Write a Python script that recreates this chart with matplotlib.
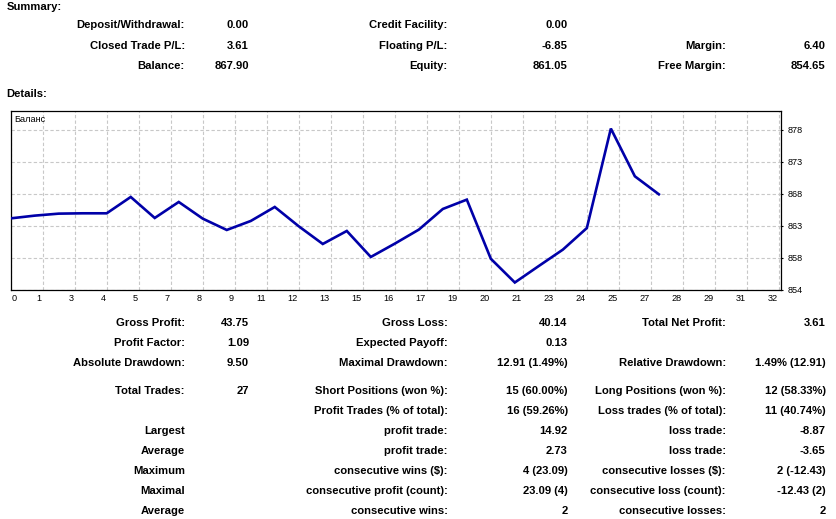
import matplotlib
matplotlib.use("Agg")
import matplotlib.pyplot as plt
import matplotlib.transforms as mtrans
import numpy as np

# ---- data ----
trade_no = list(range(28))
balance = [864.29, 864.70, 865.00, 865.05, 865.05, 867.50, 864.35, 866.75, 864.25,
           862.55, 863.90, 866.00, 863.10, 860.45, 862.40, 858.50, 860.50, 862.60,
           865.70, 867.10, 858.23, 854.67, 857.15, 859.60, 862.84, 877.76, 870.60,
           867.90]
x_tick_labels = ["0", "1", "3", "4", "5", "7", "8", "9", "11", "12", "13", "15", "16",
                 "17", "19", "20", "21", "23", "24", "25", "27", "28", "29", "31", "32"]
y_tick_values = [853.6, 858.4, 863.2, 868.0, 872.8, 877.6]
y_tick_labels = ["854", "858", "863", "868", "873", "878"]
series_label = "Баланс"

summary_rows = [
    ["Deposit/Withdrawal:", "0.00", "Credit Facility:", "0.00", "", ""],
    ["Closed Trade P/L:", "3.61", "Floating P/L:", "-6.85", "Margin:", "6.40"],
    ["Balance:", "867.90", "Equity:", "861.05", "Free Margin:", "854.65"],
]
details_rows = [
    ["Gross Profit:", "43.75", "Gross Loss:", "40.14", "Total Net Profit:", "3.61"],
    ["Profit Factor:", "1.09", "Expected Payoff:", "0.13", "", ""],
    ["Absolute Drawdown:", "9.50", "Maximal Drawdown:", "12.91 (1.49%)", "Relative Drawdown:", "1.49% (12.91)"],
    ["Total Trades:", "27", "Short Positions (won %):", "15 (60.00%)", "Long Positions (won %):", "12 (58.33%)"],
    ["", "", "Profit Trades (% of total):", "16 (59.26%)", "Loss trades (% of total):", "11 (40.74%)"],
    ["Largest", "", "profit trade:", "14.92", "loss trade:", "-8.87"],
    ["Average", "", "profit trade:", "2.73", "loss trade:", "-3.65"],
    ["Maximum", "", "consecutive wins ($):", "4 (23.09)", "consecutive losses ($):", "2 (-12.43)"],
    ["Maximal", "", "consecutive profit (count):", "23.09 (4)", "consecutive loss (count):", "-12.43 (2)"],
    ["Average", "", "consecutive wins:", "2", "consecutive losses:", "2"],
]

# ---- layout (pixels) ----
W, H = 837, 519
col_x = [185, 249, 447.7, 567.7, 726, 825.7]
summary_y = [25.5, 45.7, 66.0]
details_y = [323.3, 343.3, 363.3, 391.0, 411.0, 431.0, 451.0, 471.0, 491.0, 511.0]

FONT = "Liberation Sans"
fig = plt.figure(figsize=(W / 100, H / 100), dpi=100)
fig.patch.set_facecolor("white")


def ftext(x, y, s, **kw):
    fig.text(x / W, 1 - y / H, s, family=FONT, fontweight="bold", fontsize=8.1,
             color="#000000", va="center", **kw)


ftext(6.7, 7.3, "Summary:", ha="left")
ftext(6.7, 94.0, "Details:", ha="left")
for y, row in zip(summary_y, summary_rows):
    for x, s in zip(col_x, row):
        if s:
            ftext(x, y, s, ha="right")
for y, row in zip(details_y, details_rows):
    for x, s in zip(col_x, row):
        if s:
            ftext(x, y, s, ha="right")

# ---- chart ----
ax_l, ax_r, ax_t, ax_b = 10.7, 781.3, 111.3, 290.3
ax = fig.add_axes([ax_l / W, 1 - ax_b / H, (ax_r - ax_l) / W, (ax_b - ax_t) / H])
ax.set_facecolor("white")
ax.plot(trade_no, balance, color="#0000a8", lw=1.9, solid_joinstyle="miter", zorder=3)

xt = np.arange(len(x_tick_labels)) * 4 / 3
ax.set_xlim(0, 32.1)
ax.set_ylim(853.5, 880.35)
ax.set_xticks(xt)
ax.set_xticklabels(x_tick_labels)
ax.set_yticks(y_tick_values)
ax.set_yticklabels(y_tick_labels)
ax.yaxis.tick_right()
ax.tick_params(axis="y", length=1.6, width=0.8, pad=3, labelsize=6.6, colors="black")
ax.tick_params(axis="x", length=0, pad=3, labelsize=6.6, colors="black")
for lab in ax.get_yticklabels() + ax.get_xticklabels():
    lab.set_family(FONT)

for i, lab in enumerate(ax.get_xticklabels()):
    if i == 0:
        lab.set_ha("left")
        lab.set_transform(lab.get_transform() + mtrans.ScaledTranslation(0.6 / 100, 0, fig.dpi_scale_trans))
    else:
        lab.set_ha("right")
        lab.set_transform(lab.get_transform() + mtrans.ScaledTranslation(-1.0 / 100, 0, fig.dpi_scale_trans))

ax.grid(True, color="#c8c8c8", linestyle=(0, (3, 2)), linewidth=0.8)
for sp in ax.spines.values():
    sp.set_color("black")
    sp.set_linewidth(0.9)

ax.text(3.3 / (ax_r - ax_l), 1 - 8.0 / (ax_b - ax_t), series_label, transform=ax.transAxes,
        ha="left", va="center", fontsize=6.6, family=FONT, color="black")

fig.savefig("out.png", dpi=100, facecolor="white")
